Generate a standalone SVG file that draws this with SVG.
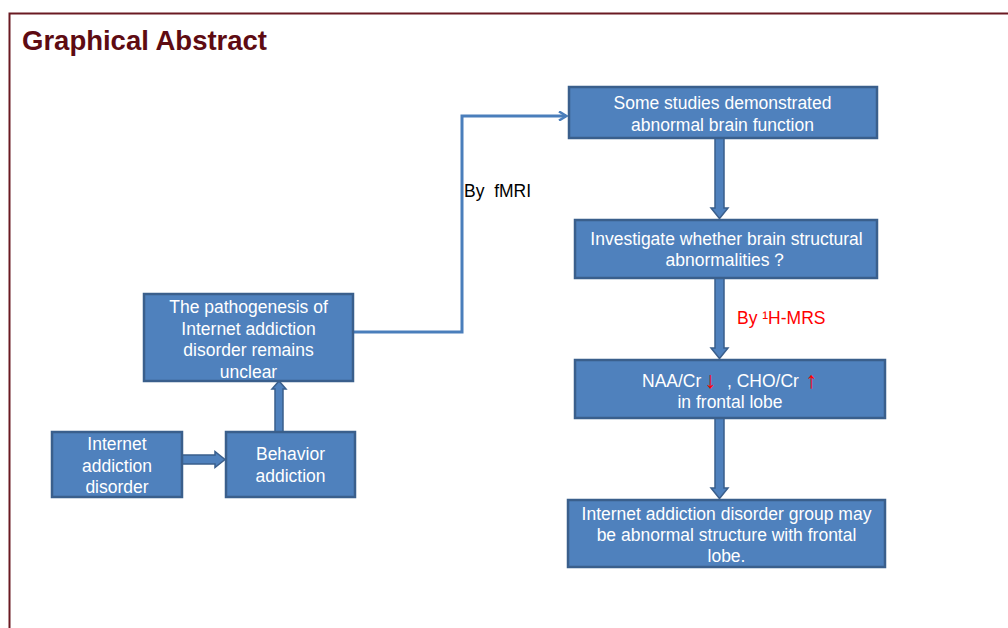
<svg xmlns="http://www.w3.org/2000/svg" width="1008" height="628" viewBox="0 0 1008 628">
<style>
.box{fill:#4f81bd;stroke:#3a5f8c;stroke-width:2.5}
.t{font-family:"Liberation Sans",Arial,sans-serif;font-size:17.5px;fill:#ffffff;text-anchor:middle}
.ts{font-family:"Liberation Sans",Arial,sans-serif;font-size:17.5px;fill:#ffffff;text-anchor:start}
.ar{font-family:"Liberation Sans","DejaVu Sans",sans-serif;font-size:23px;fill:#ff0000;text-anchor:middle}
.blk{fill:#4f81bd;stroke:#3a5f8c;stroke-width:1.5}
.lbl{font-family:"Liberation Sans",Arial,sans-serif;font-size:17.5px}
</style>
<defs>
<marker id="chev" markerWidth="10" markerHeight="10" refX="8" refY="5" orient="auto" markerUnits="userSpaceOnUse">
<path d="M1,0.5 L8.5,5 L1,9.5" fill="none" stroke="#4a7ebb" stroke-width="2.5"/>
</marker>
</defs>
<rect x="0" y="0" width="1008" height="628" fill="#ffffff"/>
<path d="M9.5,628 V13.5 H1008" fill="none" stroke="#6a1a22" stroke-width="2"/>
<text x="22" y="50" font-family="Liberation Sans,Arial,sans-serif" font-size="27.5" font-weight="bold" fill="#5e0b12">Graphical Abstract</text>

<g id="connectors">
<path d="M353,332 H462 V116 H566" fill="none" stroke="#4a7ebb" stroke-width="3" marker-end="url(#chev)"/>
<polygon class="blk" points="182,455 215,455 215,451.5 225,459.5 215,467.5 215,464 182,464"/>
<polygon class="blk" points="275,432 275,389 272,389 279,381 286,389 283,389 283,432"/>
<polygon class="blk" points="715,138 715,208 711,208 719.5,218.5 728,208 724,208 724,138"/>
<polygon class="blk" points="715,278 715,348 711,348 719.5,358.5 728,348 724,348 724,278"/>
<polygon class="blk" points="715,418 715,488 711,488 719.5,498.5 728,488 724,488 724,418"/>
<text class="lbl" x="464" y="197" fill="#000000" xml:space="preserve">By  fMRI</text>
<text class="lbl" x="737" y="324" fill="#ff0000">By ¹H-MRS</text>
</g>

<g id="n-studies">
<rect class="box" x="569" y="87" width="308" height="51"/>
<text class="t" x="722.5" y="109">Some studies demonstrated</text>
<text class="t" x="722.5" y="131">abnormal brain function</text>
</g>

<g id="n-investigate">
<rect class="box" x="575" y="220" width="302" height="58"/>
<text class="t" x="726.5" y="245">Investigate whether brain structural</text>
<text class="t" x="726.5" y="266">abnormalities？</text>
</g>

<g id="n-naa">
<rect class="box" x="575" y="360" width="310" height="58"/>
<text class="ts" x="642" y="387">NAA/Cr</text>
<text class="ar" x="710.5" y="388">↓</text>
<text class="ts" x="727" y="387">, CHO/Cr</text>
<text class="ar" x="811.5" y="388">↑</text>
<text class="t" x="730" y="408">in frontal lobe</text>
</g>

<g id="n-result">
<rect class="box" x="568" y="500" width="317" height="67"/>
<text class="t" x="726.5" y="520">Internet addiction disorder group may</text>
<text class="t" x="726.5" y="541">be abnormal structure with frontal</text>
<text class="t" x="726.5" y="562">lobe.</text>
</g>

<g id="n-pathogenesis">
<rect class="box" x="144" y="294" width="209" height="87"/>
<text class="t" x="248.5" y="313">The pathogenesis of</text>
<text class="t" x="248.5" y="334.5">Internet addiction</text>
<text class="t" x="248.5" y="356">disorder remains</text>
<text class="t" x="248.5" y="377.5">unclear</text>
</g>

<g id="n-iad">
<rect class="box" x="52" y="432" width="130" height="65"/>
<text class="t" x="117" y="450">Internet</text>
<text class="t" x="117" y="472">addiction</text>
<text class="t" x="117" y="493">disorder</text>
</g>

<g id="n-behavior">
<rect class="box" x="226" y="432" width="129" height="65"/>
<text class="t" x="290.5" y="460">Behavior</text>
<text class="t" x="290.5" y="482">addiction</text>
</g>
</svg>
